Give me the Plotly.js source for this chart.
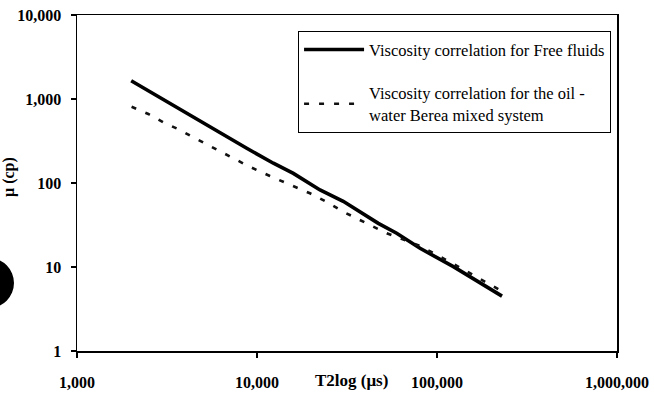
<!DOCTYPE html>
<html>
<head>
<meta charset="utf-8">
<script src="https://cdn.plot.ly/plotly-3.0.1.min.js"></script>
<style>html,body{margin:0;padding:0;background:#fff;}#chart{width:654px;height:396px;}</style>
</head>
<body>
<div id="chart"></div>
<script>
// Series names
var seriesNames = [
  "Viscosity correlation for Free fluids",
  "Viscosity correlation for the oil -<br>water Berea mixed system"
];
// Free fluids (solid)
var xSolid = [2000, 4060, 7080, 8770, 12330, 15920, 22390, 30130, 47210, 59700, 80480, 123300, 229700];
var ySolid = [1650, 676, 341, 259, 172, 130, 82.6, 60.5, 33.1, 25.2, 16.7, 10.1, 4.5];
// Oil-water Berea mixed system (dashed)
var xDashed = [2010, 2490, 3010, 3660, 4530, 5480, 6800, 8950, 11800, 14620, 19690, 24380, 30130, 42460, 52600, 80480, 123300, 224000];
var yDashed = [809, 663, 528, 436, 341, 275, 220, 159, 121, 99, 75.4, 59.5, 45.5, 31.6, 25.2, 17.8, 10.9, 5.3];
// Axis ticks
var xTickVals = [1000, 10000, 100000, 1000000];
var xTickText = ["1,000", "10,000", "100,000", "1,000,000"];
var yTickVals = [1, 10, 100, 1000, 10000];
var yTickText = ["1", "10", "100", "1,000", "10,000"];
var xTitle = "T2log (\u03bcs)";
var yTitle = "\u03bc (cp)";

var serif = "Liberation Serif, Times New Roman, serif";

var traces = [
  {x: xSolid, y: ySolid, name: seriesNames[0], type: "scatter", mode: "lines",
   line: {color: "#000", width: 3.6}, legendgroup: "a"},
  {x: xDashed, y: yDashed, name: seriesNames[1], type: "scatter", mode: "lines",
   line: {color: "#111", width: 2.6, dash: "5px,10px"}, legendgroup: "b"}
];

var layout = {
  width: 654, height: 396,
  margin: {l: 77, r: 37, t: 15, b: 45},
  paper_bgcolor: "#fff", plot_bgcolor: "#fff",
  showlegend: true,
  font: {family: serif, color: "#000"},
  xaxis: {
    type: "log", range: [3, 6],
    tickvals: xTickVals, ticktext: xTickText,
    ticks: "outside", ticklen: 5, tickwidth: 1.2, tickcolor: "#000",
    showgrid: false, zeroline: false,
    showline: true, linecolor: "#000", linewidth: 1.5, mirror: true,
    tickfont: {family: serif, size: 16, color: "#000", weight: "bold"},
    ticklabelstandoff: 11
  },
  yaxis: {
    type: "log", range: [0, 4],
    tickvals: yTickVals, ticktext: yTickText,
    ticks: "outside", ticklen: 5, tickwidth: 1.2, tickcolor: "#000",
    showgrid: false, zeroline: false,
    showline: true, linecolor: "#000", linewidth: 1.5, mirror: true,
    tickfont: {family: serif, size: 16, color: "#000", weight: "bold"},
    ticklabelstandoff: 6
  },
  legend: {
    x: 0.409, y: 0.952, xanchor: "left", yanchor: "top",
    bgcolor: "#fff", bordercolor: "#000", borderwidth: 1.2,
    font: {family: serif, size: 16.5, color: "#000"},
    traceorder: "grouped", tracegroupgap: 19, itemwidth: 60
  },
  annotations: [
    {text: xTitle, xref: "paper", yref: "paper", x: 0.508, y: -0.089,
     xanchor: "center", yanchor: "middle", showarrow: false,
     font: {family: serif, size: 17, color: "#000", weight: "bold"}},
    {text: yTitle, xref: "paper", yref: "paper", x: -0.126, y: 0.518,
     xanchor: "center", yanchor: "middle", textangle: -90, showarrow: false,
     font: {family: serif, size: 16, color: "#000", weight: "bold"}}
  ],
  shapes: [
    {type: "circle", xref: "paper", yref: "paper",
     x0: -0.209, x1: -0.1167, y0: 0.128, y1: 0.277,
     fillcolor: "#000", line: {width: 0}, layer: "above"}
  ]
};

Plotly.newPlot("chart", traces, layout, {staticPlot: true, displayModeBar: false});
</script>
</body>
</html>
